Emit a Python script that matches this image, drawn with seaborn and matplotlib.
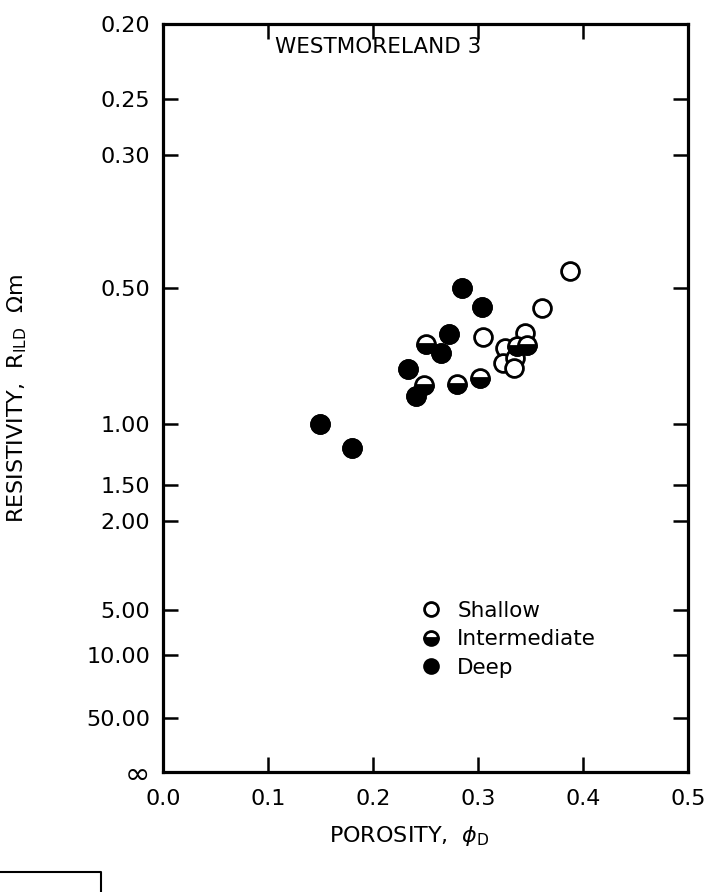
"""
Westmoreland 3: resistivity vs density porosity (Hingle-style axis)
"""

import matplotlib.pyplot as plt
from matplotlib.lines import Line2D
from matplotlib.markers import MarkerStyle
import numpy as np
import pandas as pd
import seaborn as sns

# values
SHALLOW_POROSITY = [0.388, 0.361, 0.305, 0.345, 0.326, 0.324, 0.335, 0.334]
SHALLOW_RESISTIVITY = [0.465, 0.547, 0.626, 0.615, 0.660, 0.711, 0.693, 0.730]

INTERMEDIATE_POROSITY = [0.251, 0.249, 0.280, 0.302, 0.337, 0.347]
INTERMEDIATE_RESISTIVITY = [0.649, 0.801, 0.795, 0.769, 0.654, 0.652]

DEEP_POROSITY = [0.285, 0.304, 0.272, 0.265, 0.233, 0.241, 0.150, 0.180]
DEEP_RESISTIVITY = [0.500, 0.544, 0.618, 0.676, 0.736, 0.850, 1.00, 1.16]

RES_TICKS = [0.20, 0.25, 0.30, 0.50, 1.00, 1.50, 2.00, 5.00, 10.00, 50.00, np.inf]
RES_TICK_LABELS = ["0.20", "0.25", "0.30", "0.50", "1.00", "1.50", "2.00",
                   "5.00", "10.00", "50.00", "\u221e"]
POR_TICKS = [0.0, 0.1, 0.2, 0.3, 0.4, 0.5]
POR_TICK_LABELS = ["0.0", "0.1", "0.2", "0.3", "0.4", "0.5"]

P = 0.475  # exponent of the resistivity axis, R ** -P


def to_axis(r):
    r = np.asarray(r, dtype=float)
    with np.errstate(divide="ignore"):
        return np.where(np.isinf(r), 0.0, r ** -P)


def build_frame():
    parts = []
    for name, por, res in [
        ("Shallow", SHALLOW_POROSITY, SHALLOW_RESISTIVITY),
        ("Intermediate", INTERMEDIATE_POROSITY, INTERMEDIATE_RESISTIVITY),
        ("Deep", DEEP_POROSITY, DEEP_RESISTIVITY),
    ]:
        parts.append(pd.DataFrame({"depth": name, "porosity": por, "resistivity": res}))
    df = pd.concat(parts, ignore_index=True)
    df["y"] = to_axis(df["resistivity"])
    return df


def main():
    sns.set_style("ticks")
    plt.rcParams["font.family"] = ["DejaVu Sans"]
    plt.rcParams["mathtext.fontset"] = "dejavusans"
    for key in ("text.color", "axes.labelcolor", "xtick.color", "ytick.color"):
        plt.rcParams[key] = "black"

    df = build_frame()

    fig = plt.figure(figsize=(7.18, 8.92), dpi=100)
    ax = fig.add_axes([0.227, 0.1345, 0.731, 0.8385])

    size = 165
    lw = 2.0
    # every point first as an open ring
    sns.scatterplot(data=df, x="porosity", y="y", color="white",
                    edgecolor="black", linewidth=lw, s=size, ax=ax, zorder=3)
    # half-filled intermediates
    sns.scatterplot(data=df[df.depth.eq("Intermediate")], x="porosity", y="y",
                    marker=MarkerStyle("o", fillstyle="bottom"), color="black",
                    edgecolor="black", linewidth=lw, s=size, ax=ax, zorder=4)
    # solid deep
    sns.scatterplot(data=df[df.depth.eq("Deep")], x="porosity", y="y",
                    color="black", edgecolor="black", linewidth=lw, s=size,
                    ax=ax, zorder=4)

    ax.set_xlim(0, 0.5)
    ax.set_ylim(0, float(to_axis(0.20)))
    ax.set_xticks(POR_TICKS, POR_TICK_LABELS)
    ax.set_yticks(to_axis(RES_TICKS), RES_TICK_LABELS)
    ax.tick_params(direction="in", length=11, width=1.8, top=True, right=True,
                   labelsize=16, pad=9)
    ax.tick_params(axis="x", pad=12)
    ax.get_yticklabels()[-1].set_fontsize(22)
    for spine in ax.spines.values():
        spine.set_linewidth(2.3)
        spine.set_color("black")

    ax.set_xlabel(r"POROSITY,  $\phi_{\mathrm{D}}$", fontsize=16)
    ax.xaxis.set_label_coords(0.47, -0.07)
    ax.set_ylabel(r"RESISTIVITY,  R$_{\mathrm{ILD}}$  $\Omega$m", fontsize=16)
    ax.yaxis.set_label_coords(-0.255, 0.5)

    ax.text(0.41, 0.969, "WESTMORELAND 3", transform=ax.transAxes,
            ha="center", va="center", fontsize=15.5)

    handles = [
        Line2D([], [], ls="", marker="o", markersize=10, mew=2,
               markerfacecolor="white", markeredgecolor="black"),
        Line2D([], [], ls="", marker="o", markersize=10, mew=2,
               fillstyle="bottom", markerfacecolor="black",
               markerfacecoloralt="white", markeredgecolor="black"),
        Line2D([], [], ls="", marker="o", markersize=10, mew=2,
               markerfacecolor="black", markeredgecolor="black"),
    ]
    ax.legend(handles, ["Shallow", "Intermediate", "Deep"], loc="upper left",
              bbox_to_anchor=(0.45, 0.255), frameon=False, fontsize=15.5,
              handletextpad=0.6, labelspacing=0.4, handlelength=1.2)

    # scanned page fragment in the lower left corner
    fig.add_artist(Line2D([0, 0.14, 0.14], [0.022, 0.022, 0.0],
                          transform=fig.transFigure, color="black", lw=1.5))

    fig.savefig("out.png", dpi=100)


if __name__ == "__main__":
    main()
